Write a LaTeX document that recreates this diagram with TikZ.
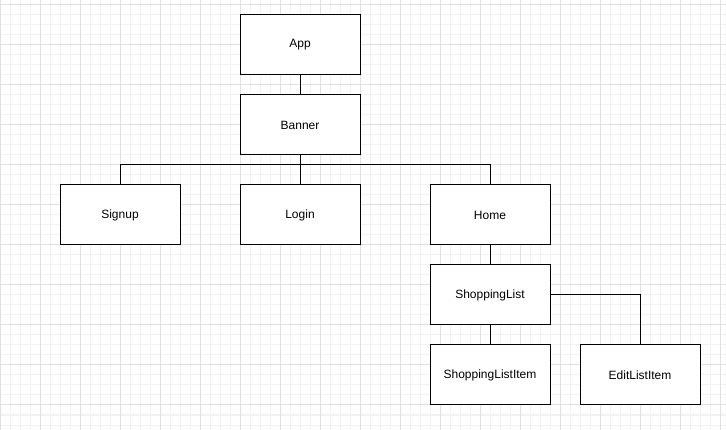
\documentclass[tikz,border=0pt]{standalone}
\usepackage{fontspec}
\setmainfont{Liberation Sans}

\begin{document}
\begin{tikzpicture}
    [x=1pt,y=-1pt,line width=1pt,
     comp/.style={draw,fill=white,minimum width=120pt,minimum height=60pt,
                  inner sep=0pt,font=\fontsize{12}{14}\selectfont},
     minorgrid/.style={draw=black!5},
     majorgrid/.style={draw=black!12}]
    \useasboundingbox (0,0) rectangle (726,430);
    % grid
    \foreach \x in {0,10,...,720} \draw[minorgrid] (\x,0) -- (\x,430);
    \foreach \y in {5,15,...,425} \draw[minorgrid] (0,\y) -- (726,\y);
    \foreach \x in {0,40,...,720} \draw[majorgrid] (\x,0) -- (\x,430);
    \foreach \y in {5,45,...,405} \draw[majorgrid] (0,\y) -- (726,\y);
    % components
    \node[comp] (app) at (300,45) {App};
    \node[comp] (banner) at (300,125) {Banner};
    \node[comp] (signup) at (120,215) {Signup};
    \node[comp] (login) at (300,215) {Login};
    \node[comp] (home) at (490,215) {Home};
    \node[comp] (shoplist) at (490,295) {ShoppingList};
    \node[comp] (listitem) at (490,375) {ShoppingListItem};
    \node[comp] (edititem) at (640,375) {EditListItem};
    \coordinate (split) at (300,165);
    % links
    \draw (app) -- (banner);
    \draw (banner) -- (split);
    \draw (split) -| (signup);
    \draw (split) -- (login);
    \draw (split) -| (home);
    \draw (home) -- (shoplist);
    \draw (shoplist) -- (listitem);
    \draw (shoplist) -| (edititem);
\end{tikzpicture}
\end{document}
